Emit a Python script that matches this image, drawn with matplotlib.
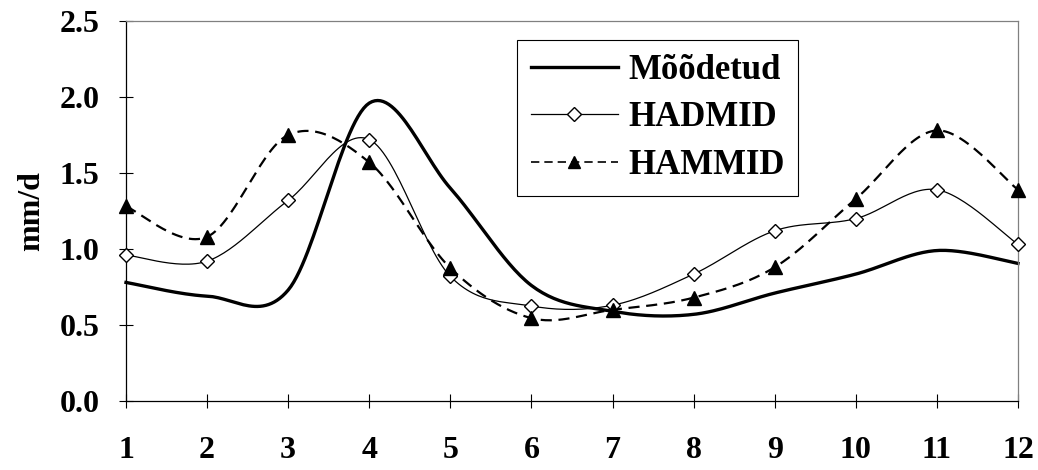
import numpy as np
import matplotlib
matplotlib.use("Agg")
import matplotlib.pyplot as plt
from matplotlib.ticker import FormatStrFormatter

plt.rcParams['font.family'] = ['Liberation Serif', 'DejaVu Serif']
plt.rcParams['font.weight'] = 'bold'

months = [1, 2, 3, 4, 5, 6, 7, 8, 9, 10, 11, 12]
moodetud = [0.78, 0.69, 0.73, 1.96, 1.40, 0.76, 0.59, 0.57, 0.71, 0.835, 0.99, 0.905]
hadmid = [0.96, 0.92, 1.32, 1.72, 0.82, 0.625, 0.63, 0.835, 1.12, 1.20, 1.39, 1.03]
hammid = [1.28, 1.08, 1.75, 1.57, 0.875, 0.545, 0.60, 0.68, 0.88, 1.33, 1.78, 1.39]


def smooth(x, y, n=30):
    # excel-like smoothed line (catmull-rom as bezier)
    x = np.asarray(x, float)
    y = np.asarray(y, float)
    px = np.concatenate([[x[0]], x, [x[-1]]])
    py = np.concatenate([[y[0]], y, [y[-1]]])
    t = np.linspace(0, 1, n)
    xs, ys = [], []
    for i in range(1, len(px) - 2):
        p0 = np.array([px[i], py[i]])
        p3 = np.array([px[i + 1], py[i + 1]])
        c1 = p0 + (np.array([px[i + 1], py[i + 1]]) - np.array([px[i - 1], py[i - 1]])) / 6
        c2 = p3 - (np.array([px[i + 2], py[i + 2]]) - np.array([px[i], py[i]])) / 6
        pts = ((1 - t) ** 3)[:, None] * p0 + (3 * (1 - t) ** 2 * t)[:, None] * c1 \
            + (3 * (1 - t) * t ** 2)[:, None] * c2 + (t ** 3)[:, None] * p3
        xs.extend(pts[:, 0])
        ys.extend(pts[:, 1])
    return xs, ys


fig = plt.figure(figsize=(10.38, 4.70), dpi=100)
ax = fig.add_axes([126 / 1038, 1 - 401 / 470, 892 / 1038, 380 / 470])

sx, sy = smooth(months, moodetud)
ax.plot(sx, sy, color='black', lw=2.4, clip_on=False)
sx, sy = smooth(months, hadmid)
ax.plot(sx, sy, color='black', lw=0.9, clip_on=False)
ax.plot(months, hadmid, ls='none', marker='D', ms=7, mfc='white', mec='black', mew=1.0, clip_on=False, zorder=3)
sx, sy = smooth(months, hammid)
ax.plot(sx, sy, color='black', lw=1.6, ls=(0, (5, 3)), clip_on=False)
ax.plot(months, hammid, ls='none', marker='^', ms=10, mfc='black', mec='black', clip_on=False, zorder=3)

# legend handles
h1, = ax.plot([], [], color='black', lw=2.4)
h2, = ax.plot([], [], color='black', lw=0.9, marker='D', ms=7, mfc='white', mec='black')
h3, = ax.plot([], [], color='black', lw=1.2, ls=(0, (5, 3)), marker='^', ms=9, mfc='black')
leg = ax.legend([h1, h2, h3], ['Mõõdetud', 'HADMID', 'HAMMID'], loc='upper left',
                bbox_to_anchor=(0.4383, 0.95), borderaxespad=0, fancybox=False, framealpha=1,
                edgecolor='black', fontsize=25, handlelength=2.5, labelspacing=0.42,
                borderpad=0.4, handletextpad=0.3)
leg.get_frame().set_linewidth(0.8)

ax.set_xlim(1, 12)
ax.set_ylim(0, 2.5)
ax.set_xticks(months)
ax.set_yticks([0, 0.5, 1.0, 1.5, 2.0, 2.5])
ax.yaxis.set_major_formatter(FormatStrFormatter('%.1f'))
ax.tick_params(direction='inout', length=10, width=0.8, labelsize=23)
ax.tick_params(axis='x', pad=20)
ax.tick_params(axis='y', pad=14)
for lab in ax.get_xticklabels() + ax.get_yticklabels():
    lab.set_fontweight('bold')
ax.set_ylabel('mm/d', fontsize=23, fontweight='bold', labelpad=10)

ax.spines['top'].set_color('#808080')
ax.spines['right'].set_color('#808080')
for s in ax.spines.values():
    s.set_linewidth(0.9)

fig.savefig('out.png', dpi=100)
